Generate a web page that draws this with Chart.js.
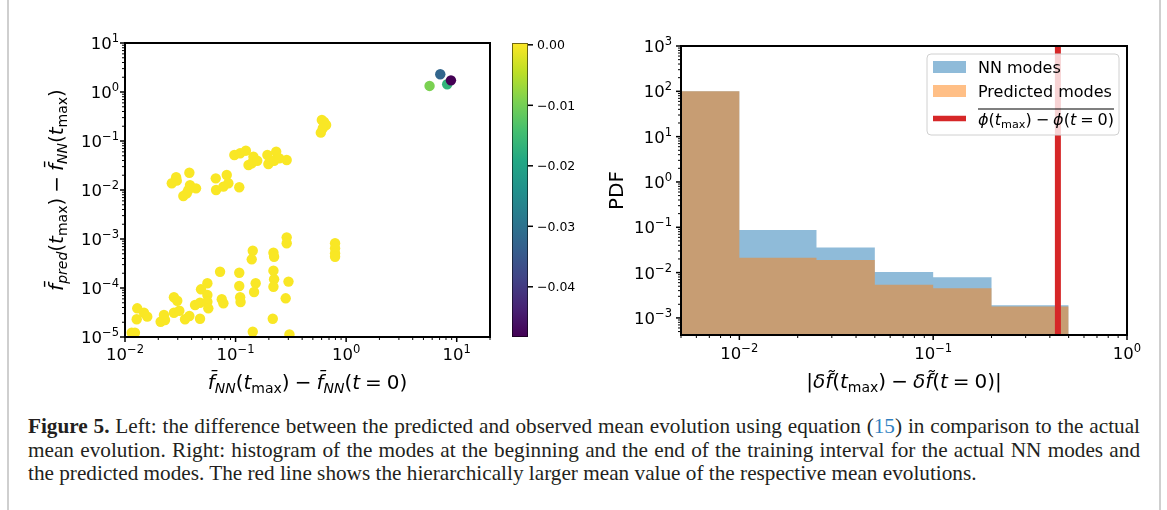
<!DOCTYPE html>
<html><head><meta charset="utf-8">
<script src="https://cdn.jsdelivr.net/npm/chart.js@4.4.1/dist/chart.umd.min.js"></script>
<style>
html,body{margin:0;padding:0;background:#fff;}
body{width:1167px;height:510px;position:relative;overflow:hidden;}
#c1{position:absolute;left:0;top:0;}
#c2{position:absolute;left:580px;top:0;}
.bl{position:absolute;top:0;width:2px;height:510px;background:#cfcfcf;}
.cap{position:absolute;left:28px;font-family:'Liberation Serif','Times New Roman',serif;color:#231f20;white-space:nowrap;line-height:20px;}
.cap b{font-weight:bold;}
.ref{color:#2f7fc1;}
</style></head>
<body>
<div class="bl" style="left:7px"></div>
<div class="bl" style="left:1159px"></div>
<canvas id="c1" width="578" height="400"></canvas>
<canvas id="c2" width="587" height="400"></canvas>
<div id="l1" class="cap"><b>Figure 5.</b> Left: the difference between the predicted and observed mean evolution using equation (<span class="ref">15</span>) in comparison to the actual</div>
<div id="l2" class="cap">mean evolution. Right: histogram of the modes at the beginning and the end of the training interval for the actual NN modes and</div>
<div id="l3" class="cap">the predicted modes. The red line shows the hierarchically larger mean value of the respective mean evolutions.</div>
<script>
// ---------------- DATA ----------------
// left panel: scatter (x = mean evolution of NN, y = |pred - NN|, c = colour value)
const scatterX = [
  0.0265,0.0290,0.0294,0.0382,0.0387,0.0439,0.0337,0.0362,0.0374,0.0662,0.0666,0.0776,0.0832,0.0861,0.108,
  0.0975,0.110,0.124,0.145,0.131,0.140,0.157,0.194,0.233,0.198,0.223,0.249,0.290,
  0.603,0.632,0.659,0.615,0.590,
  5.68,7.10,8.20,8.87,
  0.0115,0.0123,0.0129,0.01276,0.01485,0.0159,0.0210,0.0225,0.0230,0.0277,0.0297,0.0277,0.0310,0.0349,0.0382,
  0.0430,0.0477,0.0487,0.0477,0.0556,0.0556,0.0556,0.0567,0.0724,0.0750,0.0776,0.108,0.108,0.110,0.111,
  0.143,0.140,0.152,0.147,0.143,0.220,0.223,0.220,0.223,0.220,0.217,0.290,0.290,0.301,0.284,0.307,
  0.794,0.794,0.794,0.794
];
const scatterY = [
  0.0137,0.0182,0.0155,0.0225,0.0126,0.0108,0.00755,0.00857,0.0100,0.0173,0.0100,0.0117,0.0202,0.0137,0.0114,
  0.0518,0.0561,0.0634,0.0478,0.0324,0.0351,0.0396,0.0518,0.0605,0.0340,0.0396,0.0443,0.0409,
  0.268,0.244,0.212,0.182,0.148,
  1.33,2.30,1.44,1.73,
  1.22e-5,1.22e-5,3.85e-5,2.3e-5,3.13e-5,2.6e-5,2.05e-5,2.81e-5,2.22e-5,6.46e-5,5.5e-5,3.13e-5,3.44e-5,2.3e-5,2.68e-5,
  4.5e-5,5.0e-5,9.4e-5,2.36e-5,1.25e-4,7.2e-5,5.25e-5,3.85e-5,2.15e-4,5.88e-5,4.88e-5,2.05e-4,1.10e-4,6.46e-5,5.18e-5,
  5.77e-4,3.85e-4,1.25e-4,8.3e-5,1.28e-5,5.25e-4,4.35e-4,2.26e-4,1.51e-4,1.06e-4,2.36e-5,1.08e-3,8.17e-4,1.35e-4,6.16e-5,1.13e-5,
  8.17e-4,6.46e-4,5.11e-4,4.35e-4
];
const scatterC = scatterX.map(() => 0.0);
scatterC[33] = -0.0094; scatterC[34] = -0.0323; scatterC[35] = -0.0167; scatterC[36] = -0.0483;
const colorbarMin = -0.0483, colorbarMax = 0.0003;
const colorbarTicks = [0.0, -0.01, -0.02, -0.03, -0.04];
const colorbarLabels = ['0.00', '\u22120.01', '\u22120.02', '\u22120.03', '\u22120.04'];

// right panel: histogram (PDF) of modes
const binEdges = [0.005, 0.01, 0.025, 0.05, 0.1, 0.2, 0.5];
const nnPdf   = [100, 0.087, 0.036, 0.0103, 0.0079, 0.0019];
const predPdf = [100, 0.0214, 0.019, 0.0054, 0.0045, 0.00178];
const meanLineX = 0.44;
const legendLabels = ['NN modes', 'Predicted modes'];

// axis limits
const X1_MIN = 0.01, X1_MAX = 20, Y1_MIN = 1e-5, Y1_MAX = 10;
const X2_MIN = 0.005, X2_MAX = 1, Y2_MIN = 4.2e-4, Y2_MAX = 1000;

// ---------------- helpers ----------------
const FONT = '"DejaVu Sans", sans-serif';
const VIRIDIS = ['#440154','#482475','#414487','#355f8d','#2a788e','#21918c','#22a884','#44bf70','#7ad151','#bddf26','#fde725'];
function hex2rgb(h){return [parseInt(h.slice(1,3),16),parseInt(h.slice(3,5),16),parseInt(h.slice(5,7),16)];}
function viridis(t){
  t = Math.max(0, Math.min(1, t));
  const n = VIRIDIS.length - 1, i = Math.min(n - 1, Math.floor(t * n)), f = t * n - i;
  const a = hex2rgb(VIRIDIS[i]), b = hex2rgb(VIRIDIS[i + 1]);
  return 'rgb(' + a.map((v, k) => Math.round(v + (b[k] - v) * f)).join(',') + ')';
}
function logTicks(min, max){
  const out = [];
  for (let n = Math.floor(Math.log10(min)) ; n <= Math.ceil(Math.log10(max)); n++) {
    for (let k = 1; k <= 9; k++) {
      const v = k * Math.pow(10, n);
      if (v >= min * (1 - 1e-9) && v <= max * (1 + 1e-9)) out.push({v, major: k === 1, n});
    }
  }
  return out;
}
function measureMath(ctx, parts, size){
  return parts.map(p => {
    const s = (p.sub || p.sup) ? size * 0.7 : size;
    const font = (p.it ? 'italic ' : '') + s + 'px ' + FONT;
    ctx.font = font;
    const dy = p.sub ? size * 0.22 : (p.sup ? -size * 0.42 : 0);
    return {t: p.t, font, w: ctx.measureText(p.t).width, dy};
  });
}
function drawMath(ctx, parts, x, y, size, align){
  const items = measureMath(ctx, parts, size);
  const total = items.reduce((a, b) => a + b.w, 0);
  let cx = align === 'center' ? x - total / 2 : (align === 'right' ? x - total : x);
  const x0 = cx;
  ctx.textAlign = 'left'; ctx.textBaseline = 'alphabetic';
  for (const it of items) { ctx.font = it.font; ctx.fillText(it.t, cx, y + it.dy); cx += it.w; }
  return {x0, w: total};
}
function powLabel(n){ return [{t: '10'}, {t: (n < 0 ? '\u2212' : '') + Math.abs(n), sup: true}]; }

const mplAxes = {
  id: 'mplAxes',
  afterDatasetsDraw(chart, args, o){
    const ctx = chart.ctx, a = chart.chartArea, xs = chart.scales.x, ys = chart.scales.y;
    ctx.save();
    ctx.strokeStyle = '#000'; ctx.fillStyle = '#000';
    // x ticks
    logTicks(xs.min, xs.max).forEach(t => {
      const px = xs.getPixelForValue(t.v);
      ctx.lineWidth = t.major ? 1.5 : 1;
      ctx.beginPath(); ctx.moveTo(px, a.bottom); ctx.lineTo(px, a.bottom + (t.major ? 5 : 3)); ctx.stroke();
      if (t.major) drawMath(ctx, powLabel(t.n), px, o.xTickBase, o.tickSize, 'center');
    });
    // y ticks
    logTicks(ys.min, ys.max).forEach(t => {
      const py = ys.getPixelForValue(t.v);
      ctx.lineWidth = t.major ? 1.5 : 1;
      ctx.beginPath(); ctx.moveTo(a.left, py); ctx.lineTo(a.left - (t.major ? 5 : 3), py); ctx.stroke();
      if (t.major) drawMath(ctx, powLabel(t.n), a.left - o.yTickPad, py + o.tickSize * 0.36, o.tickSize, 'right');
    });
    // frame
    ctx.lineWidth = 2;
    ctx.strokeRect(a.left, a.top, a.right - a.left, a.bottom - a.top);
    // axis labels
    ctx.fillStyle = '#000';
    drawMath(ctx, o.xLabel, (a.left + a.right) / 2, o.xLabelBase, o.labelSize, 'center');
    ctx.save();
    ctx.translate(o.yLabelX, (a.top + a.bottom) / 2);
    ctx.rotate(-Math.PI / 2);
    drawMath(ctx, o.yLabel, 0, 0, o.labelSize, 'center');
    ctx.restore();
    ctx.restore();
  }
};

const colorbarPlugin = {
  id: 'colorbar',
  afterDraw(chart, args, o){
    if (!o.show) return;
    const ctx = chart.ctx, a = chart.chartArea;
    const x0 = o.left, x1 = o.right, top = a.top, bot = a.bottom;
    const g = ctx.createLinearGradient(0, bot, 0, top);
    VIRIDIS.forEach((c, i) => g.addColorStop(i / (VIRIDIS.length - 1), c));
    ctx.save();
    ctx.fillStyle = g; ctx.fillRect(x0, top, x1 - x0, bot - top);
    ctx.strokeStyle = 'rgba(0,0,0,0.55)'; ctx.lineWidth = 1;
    ctx.strokeRect(x0 + 0.5, top + 0.5, x1 - x0 - 1, bot - top - 1);
    ctx.strokeStyle = '#000'; ctx.fillStyle = '#000'; ctx.lineWidth = 1.5;
    ctx.font = o.size + 'px ' + FONT; ctx.textAlign = 'left'; ctx.textBaseline = 'alphabetic';
    colorbarTicks.forEach((v, i) => {
      const py = bot - (v - colorbarMin) / (colorbarMax - colorbarMin) * (bot - top);
      ctx.beginPath(); ctx.moveTo(x1, py); ctx.lineTo(x1 + 5, py); ctx.stroke();
      ctx.fillText(colorbarLabels[i], x1 + 9, py + o.size * 0.36);
    });
    ctx.restore();
  }
};

const legendPlugin = {
  id: 'mplLegend',
  afterDraw(chart, args, o){
    if (!o.show) return;
    const ctx = chart.ctx;
    const L = o.box;
    ctx.save();
    ctx.beginPath();
    if (ctx.roundRect) ctx.roundRect(L.x, L.y, L.w, L.h, 4); else ctx.rect(L.x, L.y, L.w, L.h);
    ctx.fillStyle = 'rgba(255,255,255,0.8)'; ctx.fill();
    ctx.strokeStyle = '#d0d0d0'; ctx.lineWidth = 1; ctx.stroke();
    const sx = L.x + 6, sw = 33, tx = L.x + 51;
    const ds = chart.data.datasets;
    // patches
    [[ds[2], legendLabels[0], o.rows[0]], [ds[1], legendLabels[1], o.rows[1]]].forEach(([d, lab, cy]) => {
      ctx.fillStyle = d.backgroundColor; ctx.fillRect(sx, cy - 6, sw, 12);
      ctx.fillStyle = '#000'; ctx.font = o.size + 'px ' + FONT; ctx.textAlign = 'left'; ctx.textBaseline = 'alphabetic';
      ctx.fillText(lab, tx, cy + o.size * 0.36);
    });
    // line entry
    const cy = o.rows[2];
    ctx.strokeStyle = ds[0].borderColor; ctx.lineWidth = 5.5;
    ctx.beginPath(); ctx.moveTo(sx, cy); ctx.lineTo(sx + sw, cy); ctx.stroke();
    ctx.fillStyle = '#000';
    const r = drawMath(ctx, o.mathLabel, tx, cy + 6, o.size, 'left');
    ctx.lineWidth = 1.2; ctx.strokeStyle = '#000';
    ctx.beginPath(); ctx.moveTo(r.x0, cy - 9.5); ctx.lineTo(r.x0 + r.w, cy - 9.5); ctx.stroke();
    ctx.restore();
  }
};

const SP = '\u2005';
const fbar = 'f\u0304', ftil = 'f\u0303';

// ---------------- LEFT CHART ----------------
const pts = scatterX.map((x, i) => ({x, y: scatterY[i]}));
const ptColors = scatterC.map(c => viridis((c - colorbarMin) / (colorbarMax - colorbarMin)));
new Chart(document.getElementById('c1'), {
  type: 'scatter',
  data: {datasets: [{data: pts, backgroundColor: ptColors, borderWidth: 0, pointRadius: 5.2, pointHoverRadius: 5.2, clip: 0}]},
  options: {
    responsive: false, animation: false, events: [],
    layout: {padding: {left: 125, top: 43, right: 578 - 490, bottom: 400 - 337}},
    plugins: {
      legend: {display: false}, tooltip: {enabled: false},
      mplAxes: {
        tickSize: 16.5, labelSize: 20, xTickBase: 360, yTickPad: 6, xLabelBase: 389, yLabelX: 63,
        xLabel: [{t: fbar, it: 1}, {t: 'NN', it: 1, sub: 1}, {t: '('}, {t: 't', it: 1}, {t: 'max', sub: 1}, {t: ')'},
                 {t: SP + '\u2212' + SP}, {t: fbar, it: 1}, {t: 'NN', it: 1, sub: 1}, {t: '('}, {t: 't', it: 1},
                 {t: SP + '=' + SP}, {t: '0'}, {t: ')'}],
        yLabel: [{t: fbar, it: 1}, {t: 'pred', it: 1, sub: 1}, {t: '('}, {t: 't', it: 1}, {t: 'max', sub: 1}, {t: ')'},
                 {t: SP + '\u2212' + SP}, {t: fbar, it: 1}, {t: 'NN', it: 1, sub: 1}, {t: '('}, {t: 't', it: 1},
                 {t: 'max', sub: 1}, {t: ')'}]
      },
      colorbar: {show: true, left: 512, right: 528, size: 12.5},
      mplLegend: {show: false}
    },
    scales: {
      x: {type: 'logarithmic', min: X1_MIN, max: X1_MAX, ticks: {display: false}, grid: {display: false}, border: {display: false}, afterFit(s){ s.height = 0; }},
      y: {type: 'logarithmic', min: Y1_MIN, max: Y1_MAX, ticks: {display: false}, grid: {display: false}, border: {display: false}, afterFit(s){ s.width = 0; }}
    }
  },
  plugins: [mplAxes, colorbarPlugin, legendPlugin]
});

// ---------------- RIGHT CHART ----------------
function stepData(edges, h){
  const d = h.map((v, i) => ({x: edges[i], y: v}));
  d.push({x: edges[edges.length - 1], y: h[h.length - 1]});
  return d;
}
new Chart(document.getElementById('c2'), {
  type: 'line',
  data: {datasets: [
    {label: 'mean', data: [{x: meanLineX, y: Y2_MIN}, {x: meanLineX, y: Y2_MAX}], borderColor: '#d62728', borderWidth: 6,
     borderCapStyle: 'butt', pointRadius: 0, fill: false, order: 0},
    {label: legendLabels[1], data: stepData(binEdges, predPdf), stepped: 'before', fill: 'start',
     backgroundColor: 'rgba(255,127,14,0.5)', borderWidth: 0, borderColor: 'rgba(0,0,0,0)', pointRadius: 0, order: 1},
    {label: legendLabels[0], data: stepData(binEdges, nnPdf), stepped: 'before', fill: 'start',
     backgroundColor: 'rgba(31,119,180,0.5)', borderWidth: 0, borderColor: 'rgba(0,0,0,0)', pointRadius: 0, order: 2}
  ]},
  options: {
    responsive: false, animation: false, events: [],
    layout: {padding: {left: 101, top: 46, right: 40, bottom: 65}},
    plugins: {
      legend: {display: false}, tooltip: {enabled: false},
      mplAxes: {
        tickSize: 16.5, labelSize: 20, xTickBase: 359, yTickPad: 9, xLabelBase: 388, yLabelX: 43,
        xLabel: [{t: '|'}, {t: '\u03b4', it: 1}, {t: ftil, it: 1}, {t: '('}, {t: 't', it: 1}, {t: 'max', sub: 1}, {t: ')'},
                 {t: SP + '\u2212' + SP}, {t: '\u03b4', it: 1}, {t: ftil, it: 1}, {t: '('}, {t: 't', it: 1},
                 {t: SP + '=' + SP}, {t: '0'}, {t: ')'}, {t: '|'}],
        yLabel: [{t: 'PDF'}]
      },
      colorbar: {show: false},
      mplLegend: {
        show: true, box: {x: 347, y: 54, w: 192, h: 81}, rows: [67, 91, 118.5], size: 16,
        mathLabel: [{t: '\u03d5', it: 1}, {t: '('}, {t: 't', it: 1}, {t: 'max', sub: 1}, {t: ')'},
                    {t: SP + '\u2212' + SP}, {t: '\u03d5', it: 1}, {t: '('}, {t: 't', it: 1},
                    {t: SP + '=' + SP}, {t: '0'}, {t: ')'}]
      }
    },
    scales: {
      x: {type: 'logarithmic', min: X2_MIN, max: X2_MAX, ticks: {display: false}, grid: {display: false}, border: {display: false}, afterFit(s){ s.height = 0; }},
      y: {type: 'logarithmic', min: Y2_MIN, max: Y2_MAX, ticks: {display: false}, grid: {display: false}, border: {display: false}, afterFit(s){ s.width = 0; }}
    }
  },
  plugins: [mplAxes, colorbarPlugin, legendPlugin]
});

// ---------------- CAPTION ----------------
(function(){
  const lines = ['l1', 'l2', 'l3'].map(id => document.getElementById(id));
  const baselines = [433, 457, 480];
  const left = 28, right = 1140, line3Right = 977;
  lines[2].style.fontSize = '100px';
  const w3 = lines[2].getBoundingClientRect().width;
  const fs = 100 * (line3Right - left) / w3;
  lines.forEach((l, i) => {
    l.style.fontSize = fs + 'px';
    l.style.top = (baselines[i] - 10 - 0.3375 * fs) + 'px';
  });
  [0, 1].forEach(i => {
    const l = lines[i];
    const w = l.getBoundingClientRect().width;
    const spaces = (l.textContent.match(/ /g) || []).length;
    l.style.wordSpacing = ((right - left - w) / spaces) + 'px';
  });
})();
</script>
</body></html>
